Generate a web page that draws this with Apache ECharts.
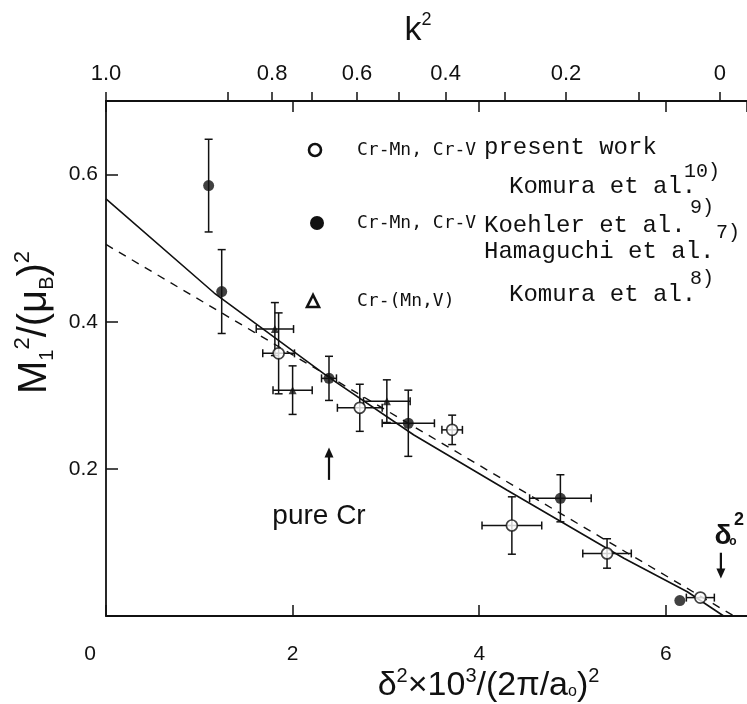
<!DOCTYPE html>
<html><head><meta charset="utf-8">
<script src="https://cdn.jsdelivr.net/npm/echarts@6/dist/echarts.min.js"></script>
<style>html,body{margin:0;padding:0;background:#fff}#c{width:747px;height:704px}</style>
</head><body><div id="c"></div>
<script>
// δ²×10³/(2π/a₀)² scale (bottom) and M₁²/(μB)² scale (left)
const xMin = 0, xMax = 6.87, xStep = 2;
const yMin = 0, yMax = 0.7, yStep = 0.2;

// k² scale along the top edge: printed values and where they fall on the δ² scale
const kLabels = ['1.0', '0.8', '0.6', '0.4', '0.2', '0'];
const kLabelAt = [0, 1.78, 2.69, 3.64, 4.93, 6.58];
const kMinorAt = [1.31, 2.21, 3.14, 4.27, 5.71];

// Cr-Mn, Cr-V present work
const presentX = [1.85, 2.72, 3.71, 4.35, 5.37, 6.37];
const presentY = [0.357, 0.283, 0.253, 0.123, 0.085, 0.025];
const presentXErr = [0.17, 0.24, 0.11, 0.32, 0.26, 0.15];
const presentYErr = [0.055, 0.032, 0.020, 0.039, 0.020, 0];

// Cr-Mn, Cr-V: Komura, Koehler, Hamaguchi et al.
const earlierX = [1.10, 1.24, 2.39, 3.24, 4.87, 6.15];
const earlierY = [0.585, 0.441, 0.323, 0.262, 0.160, 0.021];
const earlierXErr = [0, 0, 0.08, 0.28, 0.33, 0];
const earlierYErr = [0.063, 0.057, 0.030, 0.045, 0.032, 0];

// Cr-(Mn,V): Komura et al.
const ternX = [1.81, 2.00, 3.01];
const ternY = [0.390, 0.307, 0.292];
const ternXErr = [0.20, 0.21, 0.25];
const ternYErr = [0.036, 0.033, 0.029];

// solid curve and dashed straight line
const solidX = [0, 1.16, 2.37, 3.30, 4.30, 5.55, 6.23, 6.62];
const solidY = [0.567, 0.439, 0.326, 0.246, 0.171, 0.0785, 0.033, 0];
const dashX = [0, 6.73];
const dashY = [0.505, 0];

// annotation arrows (δ² position, arrow tail and head in M² units)
const pureCr = { x: 2.39, tail: 0.185, head: 0.229 };
const delta0 = { x: 6.59, tail: 0.086, head: 0.051 };

const INK = '#111';
const SANS = '"Liberation Sans", "DejaVu Sans", sans-serif';
const MONO = '"Liberation Mono", "DejaVu Sans Mono", monospace';
const GOTHIC = '"DejaVu Sans Mono", "Liberation Mono", monospace';

const pairs = (xs, ys) => xs.map((x, i) => [x, ys[i]]);

function seg(x1, y1, x2, y2) {
  return { type: 'line', shape: { x1, y1, x2, y2 }, style: { stroke: INK, lineWidth: 1.5 } };
}

function errorBars(xs, ys, xe, ye) {
  return {
    type: 'custom',
    silent: true,
    z: 2,
    data: xs.map((x, i) => [x, ys[i], xe[i], ye[i]]),
    encode: { x: 0, y: 1 },
    renderItem: (params, api) => {
      const x = api.value(0), y = api.value(1), dx = api.value(2), dy = api.value(3);
      const cap = 4;
      const kids = [];
      if (dy > 0) {
        const t = api.coord([x, y + dy]), b = api.coord([x, y - dy]);
        kids.push(seg(t[0], t[1], b[0], b[1]), seg(t[0] - cap, t[1], t[0] + cap, t[1]), seg(b[0] - cap, b[1], b[0] + cap, b[1]));
      }
      if (dx > 0) {
        const l = api.coord([x - dx, y]), r = api.coord([x + dx, y]);
        kids.push(seg(l[0], l[1], r[0], r[1]), seg(l[0], l[1] - cap, l[0], l[1] + cap), seg(r[0], r[1] - cap, r[0], r[1] + cap));
      }
      return { type: 'group', children: kids };
    }
  };
}

const axisLine = { show: true, lineStyle: { color: INK, width: 1.8 } };
const tickFont = { color: INK, fontFamily: SANS, fontSize: 21 };

const chart = echarts.init(document.getElementById('c'), null, { renderer: 'canvas' });

chart.setOption({
  backgroundColor: '#fff',
  animation: false,
  grid: { left: 106, right: 0, top: 101, bottom: 88, containLabel: false, outerBoundsMode: 'none' },
  xAxis: [
    {
      type: 'value', position: 'bottom', min: xMin, max: xMax, interval: xStep,
      axisLine, splitLine: { show: false },
      axisTick: { inside: true, length: 11, lineStyle: { color: INK, width: 1.5 } },
      axisLabel: {
        ...tickFont, margin: 28, showMaxLabel: false,
        formatter: v => v === 0 ? '{z|0}' : String(v),
        rich: { z: { ...tickFont, padding: [0, 32, 0, 0] } }
      },
      name: '{m|δ}{sup|2}{m|×10}{sup|3}{m|/(2π/a}{sub|o}{m|)}{sup|2}',
      nameLocation: 'middle', nameGap: 50, nameMoveOverlap: false,
      nameTextStyle: {
        padding: [0, 0, 0, 124],
        rich: {
          m: { fontFamily: SANS, fontSize: 34, color: INK, lineHeight: 40 },
          sup: { fontFamily: SANS, fontSize: 20, color: INK, verticalAlign: 'top', lineHeight: 40 },
          sub: { fontFamily: SANS, fontSize: 16, color: INK, verticalAlign: 'middle', padding: [12, 0, 0, 0] }
        }
      }
    },
    {
      // grid ticks hanging from the top edge
      type: 'value', position: 'top', min: xMin, max: xMax, interval: xStep,
      axisLine, splitLine: { show: false },
      axisTick: { inside: true, length: 11, lineStyle: { color: INK, width: 1.5 } },
      axisLabel: { show: false }
    },
    {
      // k² scale
      type: 'value', position: 'top', min: xMin, max: xMax,
      axisLine, splitLine: { show: false },
      axisTick: {
        inside: false, length: 9, lineStyle: { color: INK, width: 1.5 },
        customValues: kLabelAt.concat(kMinorAt)
      },
      axisLabel: {
        ...tickFont, fontSize: 22, margin: 16,
        customValues: kLabelAt,
        formatter: v => {
          const i = kLabelAt.findIndex(p => Math.abs(p - v) < 1e-6);
          return i >= 0 ? kLabels[i] : '';
        }
      },
      name: '{m|k}{sup|2}',
      nameLocation: 'middle', nameGap: 50,
      nameTextStyle: {
        padding: [0, 17, 0, 0],
        rich: {
          m: { fontFamily: SANS, fontSize: 34, color: INK, lineHeight: 40 },
          sup: { fontFamily: SANS, fontSize: 18, color: INK, verticalAlign: 'top', lineHeight: 40 }
        }
      }
    }
  ],
  yAxis: {
    type: 'value', min: yMin, max: yMax, interval: yStep,
    axisLine, splitLine: { show: false },
    axisTick: { inside: true, length: 12, lineStyle: { color: INK, width: 1.5 } },
    axisLabel: { ...tickFont, margin: 8, showMaxLabel: false, formatter: v => v === 0 ? '' : v.toFixed(1) },
    name: '{m|M}{sub|1}{sup|2}{m|/(μ}{sub|B}{m|)}{sup|2}',
    nameLocation: 'middle', nameGap: 48, nameRotate: 90,
    nameTextStyle: {
      padding: [0, 0, 0, 72],
      rich: {
        m: { fontFamily: SANS, fontSize: 40, color: INK, lineHeight: 46 },
        sup: { fontFamily: SANS, fontSize: 22, color: INK, verticalAlign: 'top', lineHeight: 46 },
        sub: { fontFamily: SANS, fontSize: 20, color: INK, verticalAlign: 'bottom', lineHeight: 42 }
      }
    }
  },
  series: [
    {
      type: 'line', data: pairs(solidX, solidY), showSymbol: false, silent: true, z: 1,
      lineStyle: { color: INK, width: 1.6 }
    },
    {
      type: 'line', data: pairs(dashX, dashY), showSymbol: false, silent: true, z: 1,
      lineStyle: { color: INK, width: 1.4, type: [8, 7] }
    },
    errorBars(presentX, presentY, presentXErr, presentYErr),
    errorBars(earlierX, earlierY, earlierXErr, earlierYErr),
    errorBars(ternX, ternY, ternXErr, ternYErr),
    {
      type: 'scatter', data: pairs(presentX, presentY), symbol: 'circle', symbolSize: 11, z: 4,
      itemStyle: { color: '#fff', borderColor: INK, borderWidth: 1.7 }
    },
    {
      type: 'scatter', data: pairs(earlierX, earlierY), symbol: 'circle', symbolSize: 11, z: 4,
      itemStyle: { color: INK }
    },
    {
      type: 'scatter', data: pairs(ternX, ternY), symbol: 'triangle', symbolSize: 8, z: 4,
      itemStyle: { color: INK }
    }
  ]
});

// legend block and annotations
function txt(text, x, y, font, align) {
  return { type: 'text', style: { text, x, y, font, fill: INK, textAlign: align || 'left', textVerticalAlign: 'middle', align: align || 'left', verticalAlign: 'middle' } };
}

function arrow(x, y1, y2) {
  const dir = y2 < y1 ? 1 : -1;
  return [
    { type: 'line', shape: { x1: x, y1, x2: x, y2: y2 + dir * 6 }, style: { stroke: INK, lineWidth: 2.2 } },
    { type: 'polygon', shape: { points: [[x, y2], [x - 4.5, y2 + dir * 10], [x + 4.5, y2 + dir * 10]] }, style: { fill: INK } }
  ];
}

const toPx = v => chart.convertToPixel({ xAxisIndex: 0, yAxisIndex: 0 }, v);
const pc1 = toPx([pureCr.x, pureCr.tail]), pc2 = toPx([pureCr.x, pureCr.head]);
const d1 = toPx([delta0.x, delta0.tail]), d2 = toPx([delta0.x, delta0.head]);

const fRef = '24px ' + MONO;
const fSup = '20px ' + MONO;
const fAlloy = '18px ' + GOTHIC;

chart.setOption({
  graphic: [
    { type: 'circle', shape: { cx: 315, cy: 150, r: 6 }, style: { fill: '#fff', stroke: INK, lineWidth: 2.6 } },
    { type: 'circle', shape: { cx: 317, cy: 223, r: 7 }, style: { fill: INK } },
    { type: 'polygon', shape: { points: [[313, 295], [307, 307], [319, 307]] }, style: { fill: '#fff', stroke: INK, lineWidth: 2.6 } },
    txt('Cr-Mn, Cr-V', 357, 150, fAlloy),
    txt('present work', 484, 148, fRef),
    txt('Komura et al.', 509, 187, fRef),
    txt('10)', 684, 172, fSup),
    txt('Cr-Mn, Cr-V', 357, 223, fAlloy),
    txt('Koehler et al.', 484, 226, fRef),
    txt('9)', 690, 208, fSup),
    txt('Hamaguchi et al.', 484, 252, fRef),
    txt('7)', 716, 233, fSup),
    txt('Cr-(Mn,V)', 357, 301, fAlloy),
    txt('Komura et al.', 509, 295, fRef),
    txt('8)', 690, 279, fSup),
    ...arrow(pc1[0], pc1[1], pc2[1]),
    txt('pure Cr', 319, 516, '28px ' + SANS, 'center'),
    ...arrow(d1[0], d1[1], d2[1]),
    txt('δ', 723, 536, 'bold 28px ' + SANS, 'center'),
    txt('o', 733, 542, 'bold 12px ' + SANS, 'center'),
    txt('2', 739, 520, 'bold 18px ' + SANS, 'center')
  ]
});
</script>
</body></html>
